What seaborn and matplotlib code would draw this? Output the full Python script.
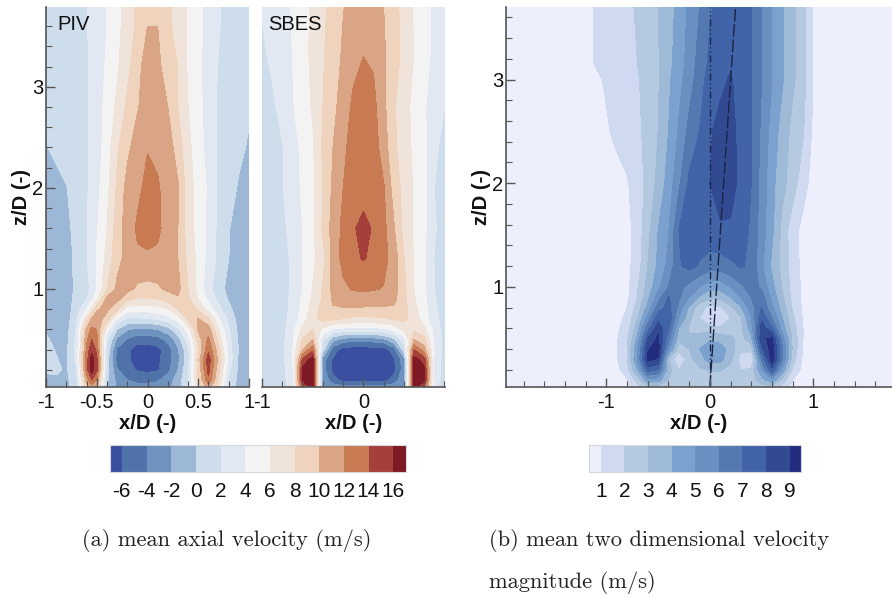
import numpy as np
import matplotlib
matplotlib.use("Agg")
import matplotlib.pyplot as plt
from matplotlib.colors import ListedColormap, BoundaryNorm
from matplotlib.ticker import MultipleLocator
import seaborn as sns

axial_levels = [-7, -6, -4, -2, 0, 2, 4, 6, 8, 10, 12, 14, 16, 17]
axial_colors = ["#3A4F9F", "#4F72A8", "#6E93BF", "#9DB8D6", "#CEDDEB", "#E1E8F2", "#F3F3F3",
                "#F0E4DA", "#EFD3BC", "#DAA584", "#C87A52", "#A43F3C", "#7E1A26"]
axial_ticks = [-6, -4, -2, 0, 2, 4, 6, 8, 10, 12, 14, 16]

mag_levels = [0.5, 1, 2, 3, 4, 5, 6, 7, 8, 9, 9.5]
mag_colors = ["#EDF0FC", "#CFDAF0", "#B5C9E0", "#9FBAD6", "#7BA1CF",
              "#6A90C2", "#5379B0", "#4163A8", "#314A92", "#232C7E"]
mag_ticks = [1, 2, 3, 4, 5, 6, 7, 8, 9]

# PIV mean axial velocity, one row per z station
piv_x = [-1, -.9, -.8, -.7, -.6, -.55, -.5, -.4, -.3, -.2, -.1, 0, .1, .2, .3, .4, .5, .6, .7, .8, .9, 1]
piv_z = [.03, .1, .2, .3, .4, .5, .6, .7, .8, .9, 1.0, 1.3, 1.45, 1.6, 2.0, 2.4, 2.8, 3.2, 3.6, 3.79]
piv_u = [
    [-.5, -.6, -.5, 1, 9, 11, 10, -.2, -2.2, -3, -3.3, -3.3, -3.2, -2.6, -1, 2, 7, 11, 7, 1, -.6, -1],
    [-.5, -.4, -.5, 1.4, 11, 14, 12, .3, -2.6, -4, -4.6, -4.6, -4.3, -3, -1.2, 2, 8, 13.5, 8, 1.6, -.6, -1],
    [.3, .4, -.3, 1.8, 13, 17.5, 14.5, 1, -3.8, -5.3, -6.2, -6.5, -6.2, -4.6, -2, 1.6, 8.5, 14.7, 8.5, 2.5, -.5, -1],
    [.4, .1, -.4, 2.6, 13, 17, 14.5, 1, -4.7, -5.6, -7, -7, -6.4, -5, -2.5, 1.2, 9, 15, 9.5, 3.4, -.4, -1],
    [.4, -.1, -.4, 2.5, 12.5, 15.5, 13.5, 1.5, -4.3, -5.6, -7, -7, -6.6, -5, -2.3, 1.5, 8, 13.6, 8.8, 3, -.2, -1],
    [.3, -.5, -.6, 2.5, 11.5, 14, 12.5, 2.5, -2.5, -4.2, -5.2, -5.1, -4.8, -3.5, -1, 3, 9, 12.4, 7.5, 2.7, -.3, -1],
    [-.3, -.7, -.8, 2.2, 10.5, 12.5, 12, 5, 0, -1.8, -2.4, -2.4, -2, -.8, 1.5, 5, 10.3, 11, 6, 2.2, -.6, -1.2],
    [-1.2, -1, -1, 1.7, 7.5, 10.4, 10.9, 9.2, 3.5, 1.5, 1.5, 1.8, 2, 3, 4.7, 8.4, 10.2, 8.5, 4.3, 1.5, -.8, -1.3],
    [-1.4, -1.1, -1, 1, 4, 6.5, 9.8, 10.4, 8.5, 5, 4.8, 4.8, 5.2, 6, 8, 9.3, 7.6, 5.2, 2.6, .5, -1, -1.4],
    [-1.5, -1.2, -.9, .6, 2, 3.5, 5.5, 10.6, 10.6, 8.6, 7.8, 7.8, 8, 8.8, 9.7, 8.5, 5.9, 3.5, 1.5, -.2, -1, -1.4],
    [-1.6, -1.3, -.7, .3, 1.4, 2.5, 4, 8, 10.4, 10.6, 9.7, 9.4, 9.7, 10.4, 10.6, 8, 5.3, 2.8, .7, -.5, -1, -1.4],
    [-1.6, -1.2, -.6, .4, 1.9, 3, 4.1, 6.6, 9.4, 10.6, 11.3, 11.6, 11.3, 10.8, 10, 7.5, 5.4, 3.3, 1.5, 0, -.9, -1.4],
    [-1.6, -1.1, -.5, .4, 1.8, 2.8, 4, 6.3, 9.2, 10.8, 12, 12.3, 12, 11, 10, 7.2, 5.3, 3.4, 1.5, .1, -.8, -1.3],
    [-1.5, -1, -.4, .5, 1.8, 2.7, 3.8, 6, 9, 10.9, 12.3, 12.9, 12.4, 11.2, 10, 7, 5.2, 3.5, 1.5, .1, -.7, -1.2],
    [-1.3, -.7, -.1, .9, 1.8, 2.5, 3.4, 5.4, 8.3, 10.7, 11.5, 12.6, 12.2, 11.3, 10.2, 7, 5.1, 3.7, 1.6, .7, -.2, -.9],
    [-.1, .5, .9, 1.3, 1.8, 2.4, 3.1, 4.9, 7.7, 9.5, 11, 11.9, 11.6, 11, 9.1, 6.5, 4.9, 3.2, 1.7, 1, .4, -.2],
    [.2, .6, .9, 1.3, 1.8, 2.4, 3.1, 4.6, 6.4, 8.4, 9.8, 11.1, 11, 10, 8, 6, 4.7, 2.9, 1.7, 1.2, .7, .2],
    [.3, .6, .9, 1.3, 1.8, 2.3, 2.9, 4.3, 5.7, 7.4, 9.4, 10.9, 10.4, 9.2, 8, 5.7, 4.4, 3.2, 1.9, 1.3, .8, .5],
    [.5, .7, 1, 1.4, 1.9, 2.4, 2.9, 4, 5.4, 6.9, 8.4, 10, 10, 8.5, 7.1, 5.8, 4.5, 3.3, 2.1, 1.5, 1, .7],
    [.6, .8, 1, 1.4, 1.9, 2.4, 2.9, 4, 5.4, 6.9, 8.4, 9.2, 9.4, 8.5, 7.1, 5.8, 4.5, 3.3, 2.1, 1.5, 1, .7],
]

# SBES mean axial velocity
sbes_x = [-1, -.9, -.8, -.7, -.6, -.5, -.4, -.3, -.2, -.1, 0, .1, .2, .3, .4, .5, .6, .7, .8, .9]
sbes_z = [.03, .1, .2, .3, .4, .5, .6, .7, .8, .9, 1.0, 1.3, 1.6, 2.0, 2.4, 2.8, 3.3, 3.79]
sbes_u = [
    [.4, .7, 1.4, 2.5, 14, 17, -2.4, -3, -3.4, -3.5, -3.5, -3.5, -3.4, -3, -2.4, 17, 14, 2.5, 1.2, .8],
    [.4, .7, 1.4, 3, 16.5, 17, -2.5, -5.2, -6.7, -7, -7, -7, -6.7, -5.2, -2.5, 17, 16.5, 3, 1.2, .8],
    [.4, .7, 1.5, 3.2, 16.5, 17, -3, -6.6, -7, -7, -7, -7, -7, -6.6, -3, 17, 16.5, 3.2, 1.2, .8],
    [.4, .7, 1.5, 3.5, 14.5, 17, -3, -6.3, -7, -7, -7, -7, -7, -6.3, -3, 17, 15, 3.5, 1.2, .8],
    [.4, .7, 1.5, 3.8, 10, 13.5, .8, -5, -7, -7, -7, -7, -7, -5, 1, 14, 11, 3.8, 1.2, .8],
    [.4, .7, 1.4, 3.6, 8.2, 10, 2.5, -1.3, -2.8, -3.2, -3.2, -3, -2.5, -.5, 3, 10, 8.6, 3.7, 1.2, .8],
    [.4, .7, 1.4, 3.2, 6.6, 8, 5.5, 3.8, 3.4, 3.2, 3.2, 3.2, 3.6, 4.6, 6.5, 7.6, 6.5, 3.3, 1.2, .8],
    [.4, .7, 1.3, 2.7, 5, 7.4, 8.6, 8.3, 7.8, 7.5, 7.5, 7.5, 7.7, 8.1, 8.5, 7.2, 5, 2.7, 1.1, .8],
    [.4, .7, 1.3, 2.5, 4.6, 7, 8.8, 9.8, 9.8, 9.7, 9.7, 9.7, 9.7, 9.7, 8.7, 6.7, 4.7, 2.4, 1, .8],
    [.4, .7, 1.3, 2.4, 4.3, 6.3, 8.3, 10.3, 10.9, 11.1, 11.1, 11, 10.8, 10.5, 8.6, 6.2, 4.5, 2.2, 1, .8],
    [.4, .8, 1.3, 2.3, 4, 6.1, 8.2, 10.5, 11.6, 12.2, 12.3, 12.2, 11.9, 10.9, 8.5, 6, 4.4, 2, 1, .8],
    [.5, .9, 1.4, 2.3, 4, 5.5, 7.3, 10.8, 12.6, 13.7, 14.1, 13.7, 12.6, 11.2, 8.1, 5.8, 4.4, 1.9, 1, .8],
    [.5, 1, 1.6, 2.6, 4, 5.6, 8.3, 10.8, 12.5, 13.9, 14.3, 13.9, 12.6, 10.2, 7.4, 5.8, 4.4, 2.2, 1.2, 1],
    [.6, 1.2, 1.9, 3, 4.3, 5.6, 8, 10.4, 12, 13.2, 13.6, 13.2, 12.2, 9.2, 7.3, 5.8, 4.6, 2, 1.2, 1],
    [.7, 1.3, 1.9, 3.1, 4.5, 5.7, 8.3, 10, 11.5, 12.9, 13.5, 13, 11, 8.5, 6.9, 5.6, 4.4, 2.4, 1.4, 1],
    [1.1, 1.7, 2.5, 3.8, 5, 6.2, 8, 9.4, 11, 12.4, 13, 12.6, 10.5, 8.2, 6.8, 5.4, 4.2, 3, 2, 1.5],
    [1.7, 2.3, 3.1, 4, 5.2, 6.5, 7.8, 9, 10.3, 11.4, 12, 11.7, 10.3, 8.8, 7.5, 5.9, 4.7, 3.5, 2.2, 1.5],
    [2.1, 2.9, 3.5, 4.1, 5.2, 6.4, 7.6, 8.7, 9.9, 10.8, 11.3, 10.9, 10, 8.7, 7.3, 5.8, 4.7, 3.5, 2.1, 1.5],
]

# mean two dimensional velocity magnitude
mag_x = [-2, -1.2, -1, -.9, -.8, -.7, -.6, -.5, -.4, -.3, -.2, -.1, 0,
         .1, .2, .3, .4, .5, .6, .7, .8, .9, 1, 1.2, 1.8]
mag_z = [.03, .1, .2, .3, .4, .5, .6, .7, .8, .9, 1.0, 1.2, 1.55, 2.0, 2.5, 3.0, 3.15, 3.7]
mag_u = [
    [.6, .5, .5, .5, .7, 1.5, 2.4, 2.5, 2.4, 2.4, 2.2, 2, 2, 2, 2.2, 2.3, 2.4, 2.5, 2.5, 1.6, .7, .5, .5, .5, .6],
    [.6, .5, .5, .6, .9, 2.4, 4.6, 4.4, 3, 2.5, 2.4, 2.5, 2.6, 2.6, 2.5, 2.4, 2.5, 3.6, 4.6, 2.6, 1, .6, .5, .5, .6],
    [.6, .5, .5, .7, 1.6, 4, 7.5, 7, 3.4, 2, 2.3, 2.8, 3.1, 3.1, 2.6, 2, 2.2, 5, 7.7, 4.7, 1.8, .7, .5, .5, .6],
    [.6, .5, .5, .9, 2, 5, 9.2, 8.9, 3, .95, 2.6, 3.6, 4.4, 4.3, 3.3, 1.6, .95, 6.2, 9.6, 6, 2.5, .8, .5, .5, .6],
    [.6, .5, .5, .9, 2, 4.9, 8.9, 9.4, 5.3, 2.4, 3, 4, 4.7, 4.5, 3.6, 2.2, 2.4, 7.8, 9.8, 6.2, 2.8, .9, .5, .5, .6],
    [.6, .5, .5, .9, 1.8, 4.2, 8, 9.2, 6.4, 3.3, 3.1, 3.6, 3.8, 3.6, 3.3, 2.6, 3.8, 8.8, 9.2, 5.5, 2.8, 1, .5, .5, .6],
    [.6, .5, .5, .8, 1.5, 3.6, 6.6, 8.7, 7.2, 4, 2.9, 2.5, 2.4, 2.2, 2.2, 2.7, 4.5, 8.5, 7.2, 4.5, 2.5, 1, .5, .5, .6],
    [.6, .5, .5, .7, 1.2, 2.9, 5.3, 7.6, 7.7, 5, 3.3, 2, .95, .95, 2, 2.9, 5, 7.8, 6, 4, 2.2, .9, .5, .5, .6],
    [.6, .5, .5, .6, 1, 2.4, 4.3, 6.5, 7.4, 5.7, 3.8, 2.4, 1.7, 1.8, 2.7, 3.9, 5.5, 7, 5.2, 3.5, 1.9, .8, .5, .5, .6],
    [.6, .5, .5, .6, .8, 2, 3.7, 5.5, 7.1, 6.2, 5, 3.9, 3.2, 3.3, 4, 5, 6, 6.5, 4.7, 3.2, 1.7, .8, .5, .5, .6],
    [.6, .5, .5, .5, .7, 1.9, 3.4, 4.7, 6, 6.3, 5.7, 5, 4.3, 4.4, 5, 5.8, 6.5, 5.8, 4.3, 2.9, 1.6, .8, .5, .5, .6],
    [.6, .5, .5, .55, .7, 1.5, 3, 4.2, 5.3, 6.9, 7.3, 6.9, 6.5, 6.5, 6.8, 7.1, 6.8, 5.2, 3.8, 2.7, 1.5, .7, .5, .5, .6],
    [.6, .5, .5, .55, .7, 1.4, 2.7, 4, 4.9, 7, 7.3, 7.5, 7.7, 7.9, 7.9, 7.6, 6.8, 5.5, 4.2, 2.7, 1.4, .7, .6, .5, .6],
    [.6, .5, .6, .7, .9, 1.5, 2.3, 3.3, 4.4, 5.8, 7.2, 7.6, 8, 8.4, 8.3, 7.8, 7, 5.6, 4.3, 3.3, 2.5, 1.4, .6, .5, .6],
    [.6, .5, .9, 1.2, 1.5, 1.8, 2.3, 3, 4, 5.1, 6.3, 7, 7.9, 8.3, 8.3, 7.7, 7, 5.8, 4.6, 3.6, 2.7, 2.1, .8, .5, .6],
    [.6, .6, 1.1, 1.4, 1.6, 1.9, 2.4, 2.9, 3.8, 4.7, 5.5, 6.6, 7.4, 7.8, 8.1, 7.6, 7, 6, 5, 4.1, 3.2, 2.4, .9, .5, .6],
    [.6, .8, 1.3, 1.5, 1.7, 2, 2.4, 2.9, 3.7, 4.5, 5.4, 6.4, 7.2, 7.6, 7.9, 7.5, 7, 6, 5, 4.1, 3.2, 2.4, .9, .5, .6],
    [.6, .8, 1.3, 1.5, 1.8, 2.1, 2.5, 3, 3.6, 4.3, 5.2, 6, 6.9, 7.2, 7.5, 7.4, 7, 6, 5, 4.1, 3.2, 2.4, .9, .5, .6],
]

# jet axis and tilted vortex axis in the right panel
axis_z = [.03, 3.7]
axis_x = [0, 0]
tilt_x = [0, .248]

sns.set_theme(style="ticks", rc={"axes.edgecolor": "#555555", "xtick.color": "#555555",
                                 "ytick.color": "#555555", "text.color": "#111111",
                                 "xtick.labelcolor": "#111111", "ytick.labelcolor": "#111111",
                                 "axes.labelcolor": "#111111", "axes.axisbelow": False})
plt.rcParams['font.family'] = ['Liberation Sans', 'DejaVu Sans']

W, H = 892, 597
fig = plt.figure(figsize=(W / 100, H / 100), dpi=100, facecolor="white")


def px_axes(left, top, right, bottom):
    return fig.add_axes([left / W, 1 - bottom / H, (right - left) / W, (bottom - top) / H])


def style_axes(ax, xlim, zlim, xticks, xlabels, show_z=True):
    ax.set_xlim(*xlim)
    ax.set_ylim(*zlim)
    sns.despine(ax=ax, left=not show_z)
    ax.set_xticks(xticks, labels=xlabels)
    ax.xaxis.set_minor_locator(MultipleLocator(.2))
    ax.tick_params(axis="both", which="major", direction="in", length=6.5, width=1, labelsize=14.5, pad=4)
    ax.tick_params(axis="both", which="minor", direction="in", length=4, width=.8)
    ax.set_xlabel("x/D (-)", fontsize=14.5, fontweight="bold", labelpad=2)
    if show_z:
        ax.set_yticks([1, 2, 3], labels=["1", "2", "3"])
        ax.yaxis.set_minor_locator(MultipleLocator(.2))
        ax.tick_params(axis="y", which="major", pad=2)
        ax.set_ylabel("z/D (-)", fontsize=14.5, fontweight="bold", labelpad=1)
    else:
        ax.set_yticks([])
    for spine in ax.spines.values():
        spine.set_linewidth(1.2)


def legend_bar(ax, levels, colors, ticks, step):
    # one row of cells from the lowest to the highest level, coloured by the band they fall in
    cells = np.arange(levels[0], levels[-1], step) + step / 2
    cmap = ListedColormap(sns.color_palette(colors))
    norm = BoundaryNorm(levels, cmap.N)
    sns.heatmap(cells[np.newaxis, :], cmap=cmap, norm=norm, cbar=False, ax=ax,
                xticklabels=False, yticklabels=False, linewidths=0, rasterized=True)
    ax.set_xticks([(t - levels[0]) / step for t in ticks], labels=[str(t) for t in ticks])
    ax.tick_params(axis="x", length=0, labelsize=15, pad=7, labelbottom=True)
    ax.set_xlabel("")
    ax.set_ylabel("")
    for spine in ax.spines.values():
        spine.set_visible(True)
        spine.set_color("#D5D8DE")
        spine.set_linewidth(.8)


axial_cmap = sns.color_palette(axial_colors)
mag_cmap = sns.color_palette(mag_colors)

ax_piv = px_axes(46, 7, 249, 387)
ax_piv.contourf(piv_x, piv_z, np.clip(piv_u, -7, 17), levels=axial_levels, colors=axial_cmap)
style_axes(ax_piv, (-1, 1), (.03, 3.79), [-1, -.5, 0, .5, 1], ["-1", "-0.5", "0", "0.5", "1"])
fig.text(57 / W, 1 - 24 / H, "PIV", fontsize=14.5, va="center")

ax_sbes = px_axes(262, 7, 445, 387)
ax_sbes.contourf(sbes_x, sbes_z, np.clip(sbes_u, -7, 17), levels=axial_levels, colors=axial_cmap)
style_axes(ax_sbes, (-1, .805), (.03, 3.79), [-1, 0], ["-1", "0"], show_z=False)
fig.text(268 / W, 1 - 24 / H, "SBES", fontsize=14.5, va="center")

ax_mag = px_axes(506, 7, 892, 387)
ax_mag.contourf(mag_x, mag_z, np.clip(mag_u, .5, 9.5), levels=mag_levels, colors=mag_cmap)
ax_mag.plot(axis_x, axis_z, color="#1B2440", lw=1, ls=(0, (5, 2, 1, 2, 1, 2)))
ax_mag.plot(tilt_x, axis_z, color="#1B2440", lw=1, ls=(0, (9, 2)))
style_axes(ax_mag, (-1.97, 1.76), (.034, 3.70), [-1, 0, 1], ["-1", "0", "1"])

legend_bar(px_axes(109.5, 445, 405.5, 472), axial_levels, axial_colors, axial_ticks, 1)
legend_bar(px_axes(589, 445, 801.5, 472), mag_levels, mag_colors, mag_ticks, .5)

caption_font = dict(family="cmr10", fontsize=16.2, color="#222222", va="center")
fig.text(82 / W, 1 - 541 / H, "(a) mean axial velocity (m/s)", **caption_font)
fig.text(489 / W, 1 - 541 / H, "(b) mean two dimensional velocity", **caption_font)
fig.text(489 / W, 1 - 582 / H, "magnitude (m/s)", **caption_font)

fig.savefig("out.png", dpi=100, facecolor="white")
